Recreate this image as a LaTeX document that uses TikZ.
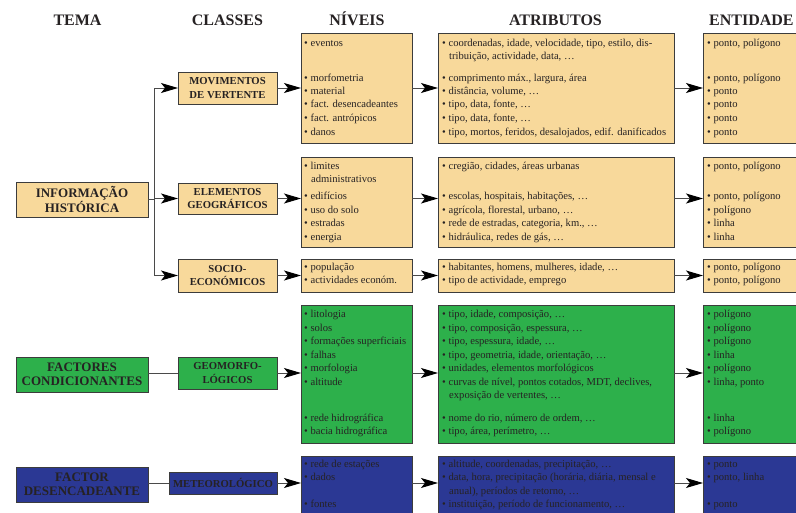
\documentclass[tikz,border=0pt]{standalone}
\usepackage{fontspec}
\setmainfont{Liberation Serif}
\usetikzlibrary{arrows.meta}
\definecolor{beige}{HTML}{F8D99B}
\definecolor{grn}{HTML}{2DB04B}
\definecolor{blu}{HTML}{2B3894}
\definecolor{ink}{HTML}{262223}
\definecolor{edgecol}{HTML}{3C3C3C}
\definecolor{linecol}{HTML}{4A4A4A}
\tikzset{
 boxbase/.style={draw=edgecol, line width=1pt, inner sep=0pt, outer sep=0pt},
 bbox/.style={boxbase, fill=beige},
 gbox/.style={boxbase, fill=grn},
 ubox/.style={boxbase, fill=blu},
 temalbl/.style={font=\bfseries\fontsize{13}{14.3}\selectfont, align=center, text=ink},
 classlbl/.style={font=\bfseries\fontsize{10.7}{13.3}\selectfont, align=center, text=ink},
 hdr/.style={font=\bfseries\fontsize{16}{18}\selectfont, text=ink, anchor=base, inner sep=0pt},
 txt/.style={font=\fontsize{10.6}{12}\selectfont, text=ink, anchor=base west, inner sep=0pt},
 link/.style={draw=linecol, line width=1pt},
 arr/.style={link, -{Stealth[length=17pt,width=10pt,inset=4pt,color=black,fill=black]}}
}
\newcommand\bx[7]{\node[#6, minimum width={(#4-#2)*1pt}, minimum height={(#5-#3)*1pt}] (#1) at ({(#2+#4)/2},{(#3+#5)/2}) {#7};}
\newcommand\tl[4]{\node[txt] (#1) at (#2,#3) {#4};}
\begin{document}
\begin{tikzpicture}[x=1pt,y=-1pt]
\useasboundingbox (0,0) rectangle (796,512);
\clip (0,0) rectangle (796,512);
% headers
\node[hdr] (hTema) at (77.5,25) {TEMA};
\node[hdr] (hClasses) at (227.5,25) {CLASSES};
\node[hdr] (hNiveis) at (357,25) {NÍVEIS};
\node[hdr] (hAtrib) at (555.5,25) {ATRIBUTOS};
\node[hdr, anchor=base west] (hEnt) at (709,25) {ENTIDADE};
% tema boxes
\bx{t1}{16}{182}{148}{217}{bbox,temalbl}{INFORMAÇÃO\\HISTÓRICA}
\bx{t2}{16}{357}{148}{392}{gbox,temalbl}{FACTORES\\CONDICIONANTES}
\bx{t3}{16}{467}{148}{502}{ubox,temalbl}{FACTOR\\DESENCADEANTE}
% class boxes
\bx{c1}{178}{72}{277}{104}{bbox,classlbl}{MOVIMENTOS\\DE VERTENTE}
\bx{c2}{178}{183}{277}{214}{bbox,classlbl}{ELEMENTOS\\GEOGRÁFICOS}
\bx{c3}{178}{259}{277}{292}{bbox,classlbl}{SOCIO-\\ECONÓMICOS}
\bx{c4}{178}{357}{277}{389}{gbox,classlbl}{GEOMORFO-\\LÓGICOS}
\bx{c5}{169}{472}{277}{494}{ubox,classlbl}{METEOROLÓGICO}
% level / attribute / entity boxes
\bx{n1}{301}{33}{412}{143}{bbox}{}
\bx{a1}{438}{33}{674}{143}{bbox}{}
\bx{e1}{703}{33}{830}{143}{bbox}{}
\bx{n2}{301}{157}{412}{247}{bbox}{}
\bx{a2}{438}{157}{674}{247}{bbox}{}
\bx{e2}{703}{157}{830}{247}{bbox}{}
\bx{n3}{301}{259}{412}{292}{bbox}{}
\bx{a3}{438}{259}{674}{292}{bbox}{}
\bx{e3}{703}{259}{830}{292}{bbox}{}
\bx{n4}{301}{305}{412}{443}{gbox}{}
\bx{a4}{438}{305}{674}{443}{gbox}{}
\bx{e4}{703}{305}{830}{443}{gbox}{}
\bx{n5}{301}{456}{412}{540}{ubox}{}
\bx{a5}{438}{456}{674}{540}{ubox}{}
\bx{e5}{703}{456}{830}{540}{ubox}{}
% connectors
\coordinate (jx) at (154,0);
\draw[link] (t1.east) -- (jx |- t1.east);
\draw[link] (jx |- c1.west) -- (jx |- c3.west);
\draw[arr] (jx |- c1.west) -- (c1.west);
\draw[arr] (jx |- c2.west) -- (c2.west);
\draw[arr] (jx |- c3.west) -- (c3.west);
\draw[link] (c4.west -| t2.east) -- (c4.west);
\draw[link] (c5.west -| t3.east) -- (c5.west);
\foreach \r in {1,...,5}{
  \draw[arr] (c\r.east) -- (c\r.east -| n\r.west);
  \draw[arr] (c\r.east -| n\r.east) -- (c\r.east -| a\r.west);
  \draw[arr] (c\r.east -| a\r.east) -- (c\r.east -| e\r.west);
}
% row 1 texts
\tl{n1a}{304}{46}{• eventos}
\tl{n1b}{304}{81}{• morfometria}
\tl{n1c}{304}{94}{• material}
\tl{n1d}{304}{107.5}{• fact. desencadeantes}
\tl{n1e}{304}{121}{• fact. antrópicos}
\tl{n1f}{304}{135}{• danos}
\tl{a1a}{442}{46}{• coordenadas, idade, velocidade, tipo, estilo, dis-}
\tl{a1b}{449}{59}{tribuição, actividade, data, …}
\tl{a1c}{442}{81}{• comprimento máx., largura, área}
\tl{a1d}{442}{94}{• distância, volume, …}
\tl{a1e}{442}{107.5}{• tipo, data, fonte, …}
\tl{a1f}{442}{121}{• tipo, data, fonte, …}
\tl{a1g}{442}{135}{• tipo, mortos, feridos, desalojados, edif. danificados}
\tl{e1a}{707}{46}{• ponto, polígono}
\tl{e1b}{707}{81}{• ponto, polígono}
\tl{e1c}{707}{94}{• ponto}
\tl{e1d}{707}{107.5}{• ponto}
\tl{e1e}{707}{121}{• ponto}
\tl{e1f}{707}{135}{• ponto}
% row 2 texts
\tl{n2a}{304}{169}{• limites}
\tl{n2b}{311}{182}{administrativos}
\tl{n2c}{304}{199}{• edifícios}
\tl{n2d}{304}{213}{• uso do solo}
\tl{n2e}{304}{226}{• estradas}
\tl{n2f}{304}{240}{• energia}
\tl{a2a}{442}{169}{• cregião, cidades, áreas urbanas}
\tl{a2b}{442}{199}{• escolas, hospitais, habitações, …}
\tl{a2c}{442}{213}{• agrícola, florestal, urbano, …}
\tl{a2d}{442}{226}{• rede de estradas, categoria, km., …}
\tl{a2e}{442}{240}{• hidráulica, redes de gás, …}
\tl{e2a}{707}{169}{• ponto, polígono}
\tl{e2b}{707}{199}{• ponto, polígono}
\tl{e2c}{707}{213}{• polígono}
\tl{e2d}{707}{226}{• linha}
\tl{e2e}{707}{240}{• linha}
% row 3 texts
\tl{n3a}{304}{270}{• população}
\tl{n3b}{304}{283}{• actividades económ.}
\tl{a3a}{442}{270}{• habitantes, homens, mulheres, idade, …}
\tl{a3b}{442}{283}{• tipo de actividade, emprego}
\tl{e3a}{707}{270}{• ponto, polígono}
\tl{e3b}{707}{283}{• ponto, polígono}
% row 4 texts
\tl{n4a}{304}{317}{• litologia}
\tl{n4b}{304}{331}{• solos}
\tl{n4c}{304}{344}{• formações superficiais}
\tl{n4d}{304}{358}{• falhas}
\tl{n4e}{304}{371}{• morfologia}
\tl{n4f}{304}{385}{• altitude}
\tl{n4g}{304}{421}{• rede hidrográfica}
\tl{n4h}{304}{434}{• bacia hidrográfica}
\tl{a4a}{442}{317}{• tipo, idade, composição, …}
\tl{a4b}{442}{331}{• tipo, composição, espessura, …}
\tl{a4c}{442}{344}{• tipo, espessura, idade, …}
\tl{a4d}{442}{358}{• tipo, geometria, idade, orientação, …}
\tl{a4e}{442}{371}{• unidades, elementos morfológicos}
\tl{a4f}{442}{385}{• curvas de nível, pontos cotados, MDT, declives,}
\tl{a4g}{449}{398}{exposição de vertentes, …}
\tl{a4h}{442}{421}{• nome do rio, número de ordem, …}
\tl{a4i}{442}{434}{• tipo, área, perímetro, …}
\tl{e4a}{707}{317}{• polígono}
\tl{e4b}{707}{331}{• polígono}
\tl{e4c}{707}{344}{• polígono}
\tl{e4d}{707}{358}{• linha}
\tl{e4e}{707}{371}{• polígono}
\tl{e4f}{707}{385}{• linha, ponto}
\tl{e4g}{707}{421}{• linha}
\tl{e4h}{707}{434}{• polígono}
% row 5 texts
\tl{n5a}{304}{467}{• rede de estações}
\tl{n5b}{304}{480}{• dados}
\tl{n5c}{304}{507}{• fontes}
\tl{a5a}{442}{467}{• altitude, coordenadas, precipitação, …}
\tl{a5b}{442}{480}{• data, hora, precipitação (horária, diária, mensal e}
\tl{a5c}{449}{494}{anual), períodos de retorno, …}
\tl{a5d}{442}{507}{• instituição, período de funcionamento, …}
\tl{e5a}{707}{467}{• ponto}
\tl{e5b}{707}{480}{• ponto, linha}
\tl{e5c}{707}{507}{• ponto}
\end{tikzpicture}
\end{document}
